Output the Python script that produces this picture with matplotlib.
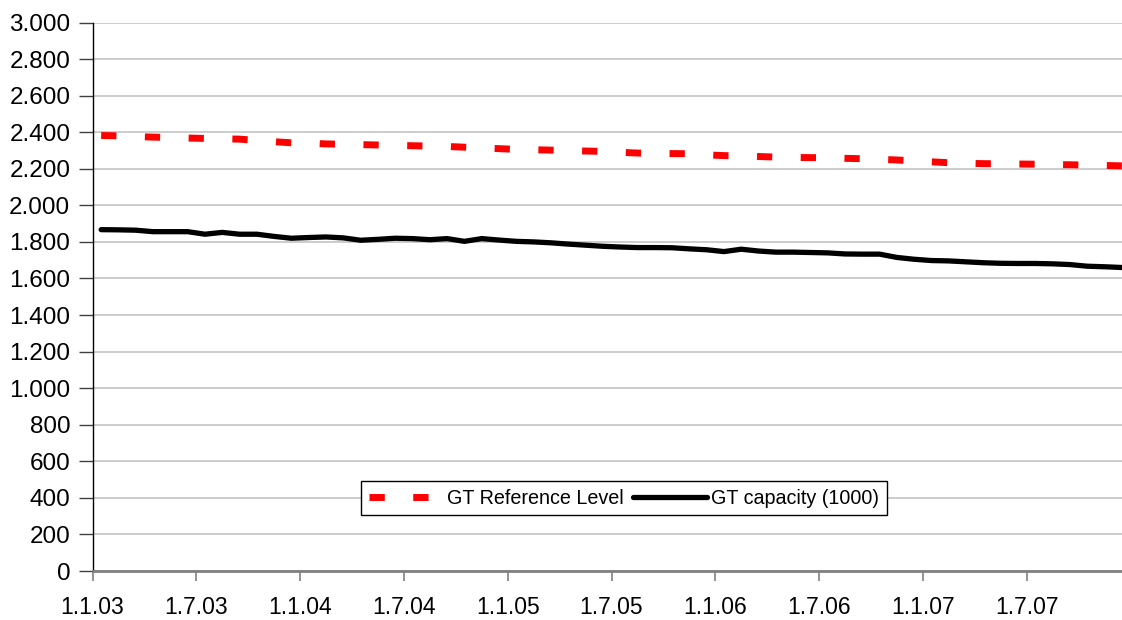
import matplotlib
matplotlib.use("Agg")
import matplotlib.pyplot as plt
from matplotlib.ticker import FuncFormatter, MultipleLocator

plt.rcParams["font.family"] = ["Liberation Sans", "DejaVu Sans"]

# monthly values, Jan 2003 .. Dec 2007
reference_level = [
    2382, 2380, 2376, 2373, 2371, 2368, 2366, 2364, 2362, 2355,
    2348, 2342, 2340, 2336, 2334, 2332, 2330, 2328, 2326, 2324,
    2322, 2318, 2314, 2310, 2306, 2304, 2302, 2299, 2297, 2295,
    2290, 2286, 2284, 2283, 2282, 2276, 2272, 2270, 2267, 2264,
    2262, 2261, 2260, 2257, 2255, 2252, 2248, 2243, 2238, 2233,
    2230, 2228, 2227, 2226, 2225, 2223, 2222, 2220, 2218, 2216,
]
capacity = [
    1867, 1866, 1864, 1856, 1856, 1856, 1842, 1852, 1842, 1842,
    1830, 1820, 1824, 1827, 1822, 1809, 1814, 1820, 1818, 1812,
    1818, 1803, 1818, 1810, 1803, 1800, 1795, 1788, 1782, 1776,
    1772, 1769, 1769, 1768, 1762, 1757, 1747, 1760, 1750, 1744,
    1744, 1742, 1740, 1734, 1733, 1733, 1715, 1705, 1698, 1696,
    1691, 1686, 1683, 1682, 1682, 1680, 1676, 1667, 1664, 1660,
]
tick_labels = ["1.1.03", "1.7.03", "1.1.04", "1.7.04", "1.1.05",
               "1.7.05", "1.1.06", "1.7.06", "1.1.07", "1.7.07"]

months = [i + 0.5 for i in range(len(capacity))]

fig = plt.figure(figsize=(11.22, 6.2), dpi=100)
ax = fig.add_axes([92.5 / 1122, 49 / 620, 1038 / 1122, 548.5 / 620])

ax.plot(months, reference_level, color="#ff0000", lw=5, dashes=(2.2, 4.1),
        solid_capstyle="butt", dash_capstyle="butt", label="GT Reference Level")
ax.plot(months, capacity, color="black", lw=3.8, solid_capstyle="round",
        label="GT capacity (1000)")

ax.set_xlim(0, 60)
ax.set_ylim(0, 3000)
ax.yaxis.set_major_locator(MultipleLocator(200))
ax.yaxis.set_major_formatter(FuncFormatter(lambda v, p: f"{v:,.0f}".replace(",", ".")))
ax.set_xticks(range(0, 60, 6))
ax.set_xticklabels(tick_labels)

ax.grid(axis="y", color="#c8c8c8", lw=1.3)
ax.set_axisbelow(True)
for s in ["top", "right"]:
    ax.spines[s].set_visible(False)
ax.spines["left"].set_color("black")
ax.spines["left"].set_linewidth(1)
ax.spines["bottom"].set_color("#808080")
ax.spines["bottom"].set_linewidth(2)

ax.tick_params(axis="y", length=10, width=1, color="#404040", labelsize=17.5, pad=6)
ax.tick_params(axis="x", length=7, width=1.2, color="#808080", labelsize=16.5, pad=11)

leg = ax.legend(loc="center", bbox_to_anchor=(0.512, 0.133), ncol=2, fontsize=14.2,
                frameon=True, fancybox=False, edgecolor="black", framealpha=1,
                handlelength=3.75, handletextpad=0.2, columnspacing=0.5,
                borderpad=0.4, borderaxespad=0)
leg.get_frame().set_linewidth(1)

fig.savefig("out.png", dpi=100)
